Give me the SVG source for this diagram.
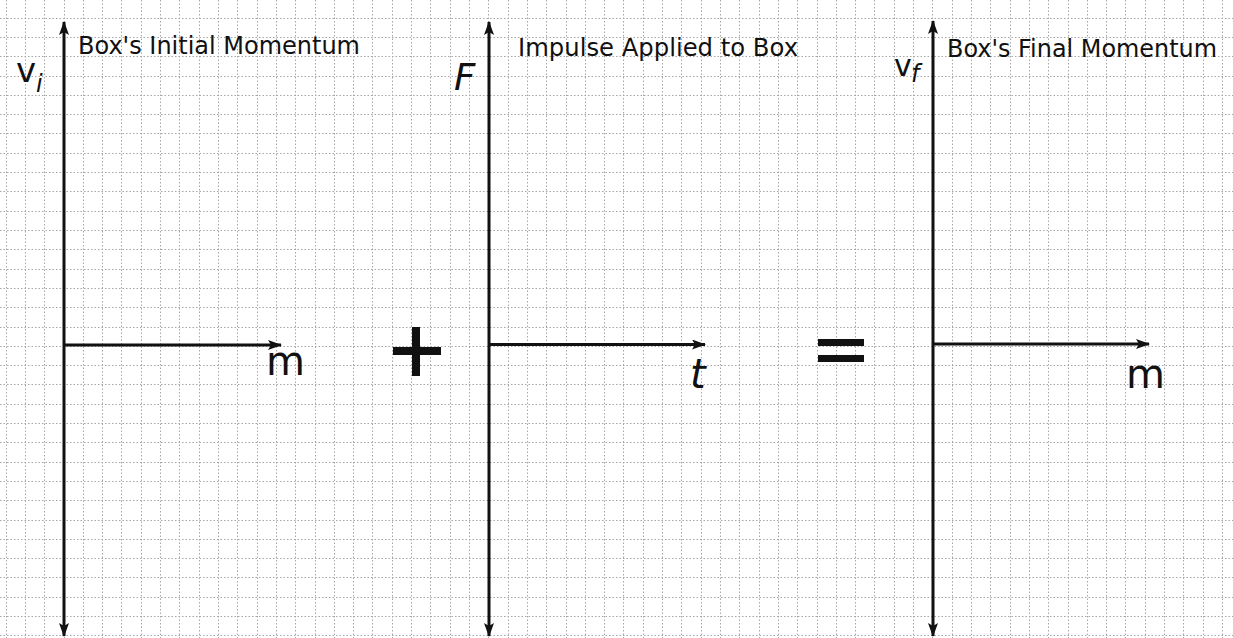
<svg xmlns="http://www.w3.org/2000/svg" width="1233" height="638" viewBox="0 0 1233 638">
<style>
.grid{fill:none;stroke:#a6a6a6;stroke-width:1;stroke-dasharray:1.5 2}
.axis{fill:none;stroke:#111;stroke-width:3}
.title{font-family:"DejaVu Sans",Verdana,sans-serif;font-size:24px;fill:#111}
.lab{font-family:"DejaVu Sans",Verdana,sans-serif;fill:#111}
.it{font-style:italic}
.op{fill:#111}
</style>
<defs>
<marker id="arr" viewBox="0 0 14 10" refX="13" refY="5" markerWidth="14" markerHeight="10" markerUnits="userSpaceOnUse" orient="auto-start-reverse">
<path d="M0,0 L14,5 L0,10 L3,5 z" fill="#111"/>
</marker>
</defs>
<rect width="1233" height="638" fill="#fff"/>
<path class="grid" d="M6.5 0V638M25.5 0V638M44.5 0V638M64.5 0V638M83.5 0V638M102.5 0V638M121.5 0V638M141.5 0V638M160.5 0V638M179.5 0V638M199.5 0V638M218.5 0V638M237.5 0V638M257.5 0V638M276.5 0V638M295.5 0V638M315.5 0V638M334.5 0V638M353.5 0V638M372.5 0V638M392.5 0V638M411.5 0V638M430.5 0V638M450.5 0V638M469.5 0V638M488.5 0V638M508.5 0V638M527.5 0V638M546.5 0V638M566.5 0V638M585.5 0V638M604.5 0V638M623.5 0V638M643.5 0V638M662.5 0V638M681.5 0V638M701.5 0V638M720.5 0V638M739.5 0V638M759.5 0V638M778.5 0V638M797.5 0V638M817.5 0V638M836.5 0V638M855.5 0V638M874.5 0V638M894.5 0V638M913.5 0V638M932.5 0V638M952.5 0V638M971.5 0V638M990.5 0V638M1010.5 0V638M1029.5 0V638M1048.5 0V638M1068.5 0V638M1087.5 0V638M1106.5 0V638M1125.5 0V638M1145.5 0V638M1164.5 0V638M1183.5 0V638M1203.5 0V638M1222.5 0V638
M0 18.5H1233M0 37.5H1233M0 56.5H1233M0 76.5H1233M0 95.5H1233M0 114.5H1233M0 133.5H1233M0 153.5H1233M0 172.5H1233M0 191.5H1233M0 211.5H1233M0 230.5H1233M0 249.5H1233M0 269.5H1233M0 288.5H1233M0 307.5H1233M0 327.5H1233M0 346.5H1233M0 365.5H1233M0 384.5H1233M0 404.5H1233M0 423.5H1233M0 442.5H1233M0 462.5H1233M0 481.5H1233M0 500.5H1233M0 520.5H1233M0 539.5H1233M0 558.5H1233M0 577.5H1233M0 597.5H1233M0 616.5H1233M0 635.5H1233"/>
<g id="connectors">
<line class="axis" x1="64" y1="22" x2="64" y2="636" marker-start="url(#arr)" marker-end="url(#arr)"/>
<line class="axis" x1="64" y1="345" x2="281" y2="345" marker-end="url(#arr)"/>
<line class="axis" x1="489" y1="22" x2="489" y2="636" marker-start="url(#arr)" marker-end="url(#arr)"/>
<line class="axis" x1="489" y1="344.5" x2="705" y2="344.5" marker-end="url(#arr)"/>
<line class="axis" x1="933" y1="21" x2="933" y2="636" marker-start="url(#arr)" marker-end="url(#arr)"/>
<line class="axis" x1="933" y1="344" x2="1149" y2="344" marker-end="url(#arr)"/>
</g>
<g id="graph-initial">
<text class="title" x="78" y="54" textLength="282" lengthAdjust="spacingAndGlyphs">Box's Initial Momentum</text>
<text class="lab" x="16" y="82" font-size="34">v</text>
<text class="lab it" x="36" y="92" font-size="24">i</text>
<text class="lab" x="266" y="375" font-size="40">m</text>
</g>
<g id="plus">
<rect class="op" x="412" y="327" width="8" height="49"/>
<rect class="op" x="393" y="347" width="48" height="8"/>
</g>
<g id="graph-impulse">
<text class="title" x="518" y="56" textLength="280" lengthAdjust="spacingAndGlyphs">Impulse Applied to Box</text>
<text class="lab it" x="454" y="90" font-size="37">F</text>
<text class="lab it" x="690" y="388" font-size="40">t</text>
</g>
<g id="equals">
<rect class="op" x="818" y="339" width="46" height="7"/>
<rect class="op" x="818" y="355" width="46" height="7"/>
</g>
<g id="graph-final">
<text class="title" x="947" y="57" textLength="270" lengthAdjust="spacingAndGlyphs">Box's Final Momentum</text>
<text class="lab" x="894" y="76" font-size="30">v</text>
<text class="lab it" x="911" y="82" font-size="24">f</text>
<text class="lab" x="1126" y="388" font-size="40">m</text>
</g>
</svg>
